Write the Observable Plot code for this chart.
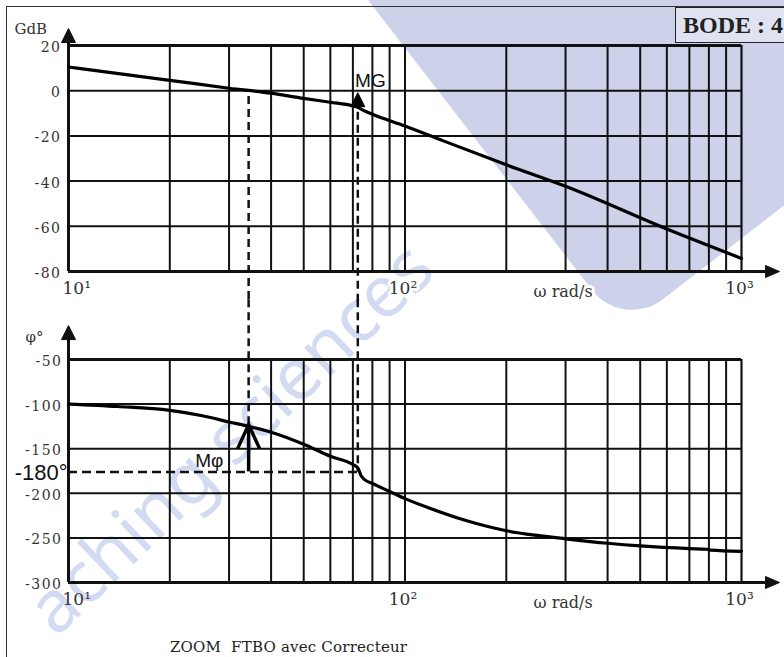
<!DOCTYPE html>
<html>
<head>
<meta charset="utf-8">
<script src="https://cdn.jsdelivr.net/npm/d3@7"></script>
<script src="https://cdn.jsdelivr.net/npm/@observablehq/plot@0.6"></script>
<style>
  body { margin: 0; background: #fff; }
  #wrap { position: relative; width: 784px; height: 657px; overflow: hidden; background: #fff; }
  .wm { position: absolute; left: 623px; top: -170px; width: 520px; height: 500px;
        transform-origin: 0 100%; transform: rotate(-37.7deg);
        background: #cdd1ea; border-radius: 0 0 0 50px; }
  .wmtext { position: absolute; left: 12px; top: 592px; font: 72px "Noto Sans", sans-serif;
            color: #d3dbf2; transform-origin: 0 0; transform: rotate(-43.7deg);
            white-space: nowrap; line-height: 1; }
  .border { position: absolute; left: 6px; top: 6px; width: 900px; height: 800px;
            border-left: 1.5px solid #333; border-top: 1.5px solid #333; }
  .bode { position: absolute; left: 675px; top: 7px; width: 140px; height: 36px;
          border: 1.5px solid #222; background: #dfe2f1; box-sizing: border-box;
          font: bold 24px "Liberation Serif", serif; color: #222; padding-left: 7px; line-height: 34px;
          white-space: nowrap; }
  .plotbox { position: absolute; left: 0; }
  #gainbox { top: 0; }
  #phasebox { top: 300px; }
  .caption { position: absolute; left: 170px; top: 638px; font: 15px "DejaVu Serif", serif;
             color: #222; white-space: nowrap; letter-spacing: 0.2px; }
  [aria-label="y-axis tick label"] text { letter-spacing: 1.5px; }
</style>
</head>
<body>
<div id="wrap">
  <div class="wm"></div>
  <div class="wmtext">aching sciences</div>
  <div class="border"></div>
  <div class="bode">BODE : 4</div>
  <div id="gainbox" class="plotbox"></div>
  <div id="phasebox" class="plotbox"></div>
  <div class="caption">ZOOM&nbsp; FTBO avec Correcteur</div>
</div>
<script>
// ---- data ----
const gainTicks = [20, 0, -20, -40, -60, -80];
const phaseTicks = [-50, -100, -150, -200, -250, -300];
const gridOmega = [10, 20, 30, 40, 50, 60, 70, 80, 90, 100, 200, 300, 400, 500, 600, 700, 800, 900, 1000];
const decadeOmega = [10, 100, 1000];
const decadeLabels = ["10¹", "10²", "10³"];
const axisUnit = "ω rad/s";

const gainOmega = [10, 20, 30, 40, 50, 60, 70, 72.4, 75, 80, 100, 130, 200, 300, 600, 1000];
const gainDb    = [10.5, 4.6, 1.1, -1.1, -3.4, -5.1, -6.7, -7.3, -8.6, -10.4, -15.6, -22.2, -32.8, -42.3, -61.2, -74.2];

const phaseOmega = [10, 14, 20, 25, 30, 34.3, 40, 50, 60, 70, 72.4, 74, 76, 80, 90, 100, 119, 150, 175, 200, 250, 300, 400, 500, 700, 790, 810, 1000];
const phaseDeg   = [-100, -102.7, -107, -113, -120, -125, -131.5, -145, -158.5, -167.7, -171.5, -180, -185, -189, -198, -206, -217, -230, -237, -242, -247.5, -251, -256, -259, -262, -262.7, -263.7, -265];

const omegaC = 34.3;     // gain crossover (0 dB)
const omegaPi = 72.4;    // phase crossover (-180°)
const phiRef = -176;     // drawn position of the -180° reference line
const gainAtPi = -7.3;
const phaseAtC = -125;
const labels = {gain: "GdB", phase: "φ°", mg: "MG", mphi: "Mφ", ref: "-180°"};

(function () {
  const gainData = gainOmega.map((w, i) => ({w, v: gainDb[i]}));
  const phaseData = phaseOmega.map((w, i) => ({w, v: phaseDeg[i]}));
  const headUp = {draw(c) { c.moveTo(0, 0); c.lineTo(7, 14); c.lineTo(-7, 14); c.closePath(); }};
  const headRight = {draw(c) { c.moveTo(0, 0); c.lineTo(-14, -6); c.lineTo(-14, 6); c.closePath(); }};
  const chevronUp = {draw(c) { c.moveTo(-11, 24); c.lineTo(0, 0); c.lineTo(11, 24); }};
  const serif = "DejaVu Serif, serif";
  const sans = "Liberation Sans, Arial, sans-serif";

  function gridMarks(yTicks, yMin, yMax) {
    return [
      Plot.ruleY(yTicks, {x1: 10, x2: 1000, stroke: "#111", strokeWidth: d => (d === yMin || d === yMax) ? 3 : 2}),
      Plot.ruleX(gridOmega, {y1: yMin, y2: yMax, stroke: "#111", strokeWidth: d => (d === 10) ? 3 : (d === 1000 ? 2.2 : 2)}),
    ];
  }
  function xLabelMarks() {
    return [
      Plot.text([decadeLabels[0]], {x: decadeOmega[0], frameAnchor: "bottom", dy: 22, dx: -6, textAnchor: "start",
        fontFamily: serif, fontSize: 17, fill: "#333"}),
      Plot.text(decadeLabels.slice(1), {x: (d, i) => decadeOmega[i + 1], frameAnchor: "bottom", dy: 22, dx: -2,
        textAnchor: "middle", fontFamily: serif, fontSize: 17, fill: "#333", stroke: "white", strokeWidth: 6}),
      Plot.text([axisUnit], {x: 295, frameAnchor: "bottom", dy: 25, textAnchor: "middle",
        fontFamily: serif, fontSize: 16, fill: "#333", stroke: "white", strokeWidth: 6}),
    ];
  }

  const gainPlot = Plot.plot({
    width: 784, height: 300,
    marginLeft: 68, marginRight: 43, marginTop: 45, marginBottom: 29,
    style: {background: "transparent", overflow: "visible"},
    x: {type: "log", domain: [10, 1000], axis: null},
    y: {domain: [-80, 20], axis: null},
    marks: [
      ...gridMarks(gainTicks, -80, 20),
      Plot.axisY({ticks: gainTicks, tickSize: 0, tickPadding: 7, tickFormat: d => String(d), label: null,
        fontFamily: serif, fontSize: 14, fill: "#333", dy: 2}),
      Plot.ruleX([10], {y1: 20, y2: 26, stroke: "#111", strokeWidth: 3}),
      Plot.dot([0], {x: 10, y: 27.5, symbol: headUp, fill: "#111", stroke: "#111", strokeWidth: 1}),
      Plot.ruleY([-80], {x1: 1000, x2: 1230, stroke: "#111", strokeWidth: 3}),
      Plot.dot([0], {x: 1297, y: -80, symbol: headRight, fill: "#111", stroke: "#111", strokeWidth: 1}),
      Plot.ruleX([omegaC], {y1: -2.6, y2: -94, stroke: "#111", strokeWidth: 2.5, strokeDasharray: "8,5"}),
      Plot.ruleX([omegaPi], {y1: -9.5, y2: -94, stroke: "#111", strokeWidth: 2.5, strokeDasharray: "8,5"}),
      Plot.line(gainData, {x: "w", y: "v", curve: "monotone-x", stroke: "#000", strokeWidth: 3.2, strokeLinejoin: "round"}),
      Plot.ruleX([omegaPi], {y1: gainAtPi, y2: -4, stroke: "#000", strokeWidth: 3}),
      Plot.dot([0], {x: omegaPi, y: -0.9, symbol: headUp, fill: "#000", stroke: "#000", strokeWidth: 1}),
      Plot.text([labels.mg], {x: 78.9, y: 4.5, fontFamily: sans, fontSize: 19, fill: "#111"}),
      Plot.text([labels.gain], {frameAnchor: "top-left", dx: -54, dy: -22, textAnchor: "start",
        fontFamily: serif, fontSize: 15, fill: "#333"}),
      ...xLabelMarks(),
    ]
  });
  document.getElementById("gainbox").append(gainPlot);

  const phasePlot = Plot.plot({
    width: 784, height: 357,
    marginLeft: 68, marginRight: 43, marginTop: 59, marginBottom: 75,
    style: {background: "transparent", overflow: "visible"},
    x: {type: "log", domain: [10, 1000], axis: null},
    y: {domain: [-300, -50], axis: null},
    marks: [
      ...gridMarks(phaseTicks, -300, -50),
      Plot.axisY({ticks: phaseTicks, tickSize: 0, tickPadding: 6, tickFormat: d => String(d), label: null,
        fontFamily: serif, fontSize: 14, fill: "#333", dy: 2}),
      Plot.ruleX([10], {y1: -50, y2: -18, stroke: "#111", strokeWidth: 3}),
      Plot.dot([0], {x: 10, y: -12, symbol: headUp, fill: "#111", stroke: "#111", strokeWidth: 1}),
      Plot.ruleY([-300], {x1: 1000, x2: 1230, stroke: "#111", strokeWidth: 3}),
      Plot.dot([0], {x: 1297, y: -300, symbol: headRight, fill: "#111", stroke: "#111", strokeWidth: 1}),
      Plot.ruleX([omegaC], {y1: 17, y2: phaseAtC, stroke: "#111", strokeWidth: 2.5, strokeDasharray: "8,5"}),
      Plot.ruleX([omegaPi], {y1: 17, y2: phiRef, stroke: "#111", strokeWidth: 2.5, strokeDasharray: "8,5"}),
      Plot.ruleY([phiRef], {x1: 10, x2: omegaPi, stroke: "#111", strokeWidth: 2.5, strokeDasharray: "9,5"}),
      Plot.line(phaseData, {x: "w", y: "v", curve: "monotone-x", stroke: "#000", strokeWidth: 3.2, strokeLinejoin: "round"}),
      Plot.ruleX([omegaC], {y1: phiRef, y2: phaseAtC + 1, stroke: "#000", strokeWidth: 3.5}),
      Plot.dot([0], {x: omegaC, y: phaseAtC + 2, symbol: chevronUp, fill: "none", stroke: "#000", strokeWidth: 3.5}),
      Plot.text([labels.mphi], {x: 26.2, y: -164, fontFamily: sans, fontSize: 19, fill: "#111"}),
      Plot.text([labels.ref], {x: 10, y: phiRef, dx: -1, dy: 1, textAnchor: "end", fontFamily: sans, fontSize: 22, fill: "#111"}),
      Plot.text([labels.phase], {frameAnchor: "top-left", dx: -43, dy: -28, textAnchor: "start",
        fontFamily: serif, fontSize: 15, fill: "#333"}),
      ...xLabelMarks(),
    ]
  });
  document.getElementById("phasebox").append(phasePlot);
})();
</script>
</body>
</html>
